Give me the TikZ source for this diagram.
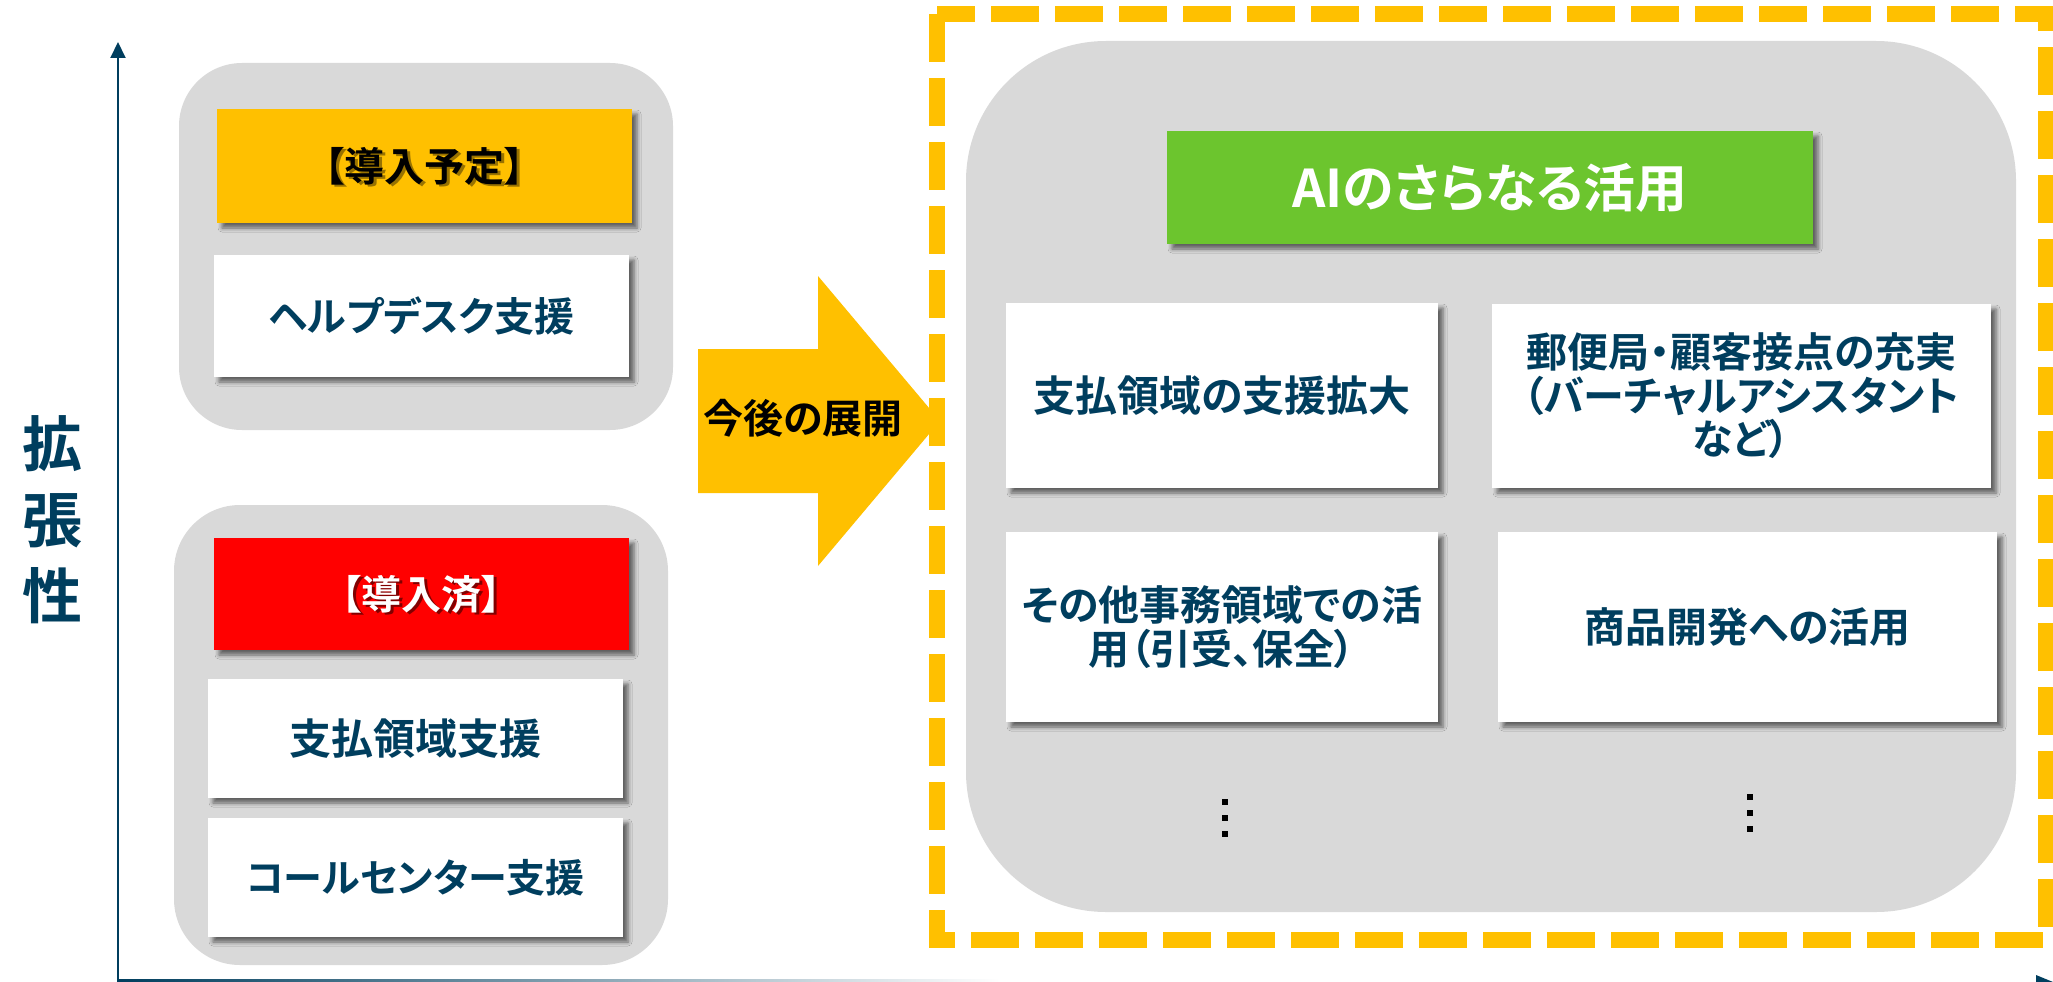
\documentclass[tikz,border=0pt]{standalone}
\usepackage{fontspec}
\setmainfont{Noto Sans CJK JP Bold}[RawFeature=+palt]
\usetikzlibrary{arrows.meta,shadows.blur}
\definecolor{navy}{HTML}{003E5E}
\definecolor{gbox}{HTML}{D9D9D9}
\definecolor{gold}{HTML}{FFC000}
\definecolor{grn}{HTML}{6CC52E}
\definecolor{redbox}{HTML}{FF0000}
\tikzset{
  panel/.style={fill=gbox, draw=none, inner sep=0pt},
  shadowed/.style={blur shadow={shadow xshift=5pt, shadow yshift=-5pt, shadow blur radius=4pt, shadow opacity=55}},
  card/.style={fill=white, draw=none, shadowed, text=navy, align=center, inner sep=0pt,
    font=\fontsize{40}{44}\selectfont},
  headbox/.style={draw=none, shadowed, inner sep=0pt},
  headtext/.style={inner sep=0pt, font=\fontsize{40}{44}\selectfont},
  axisline/.style={navy, line width=2pt},
  dot/.style={fill=black},
}
\begin{document}
\begin{tikzpicture}[x=1pt,y=-1pt]
\useasboundingbox (0,0) rectangle (2053,982);

% axes
\coordinate (origin) at (118,980);
\coordinate (ytip) at (118,42);
\coordinate (xtip) at (2053,982);
\draw[axisline, -{Triangle[width=15pt,length=16pt]}] (origin) -- (ytip);
\shade[left color=navy, right color=white] (117,979) rectangle (1000,981.5);
\fill[navy] (xtip) -- ++(-17,-7) -- ++(0,14) -- cycle;
\node[text=navy, align=center, inner sep=0pt, font=\fontsize{60}{76}\selectfont] (axislabel) at (53,520) {拡\\張\\性};

% left panels
\node[panel, rounded corners=63pt, minimum width=494pt, minimum height=367pt] (gL1) at (426,246.5) {};
\node[panel, rounded corners=66pt, minimum width=494pt, minimum height=460pt] (gL2) at (421,735) {};

\node[headbox, fill=gold, minimum width=415pt, minimum height=114pt] (plan) at (424.5,166) {};
\node[headtext, text=black!45!gold!60!black, opacity=0.6] (planshadow) at ([xshift=2.5pt,yshift=-2.5pt]plan.center) {【導入予定】};
\node[headtext, text=black] (plantext) at (plan.center) {【導入予定】};
\node[card, minimum width=415pt, minimum height=122pt] (help) at (421.5,316) {ヘルプデスク支援};

\node[headbox, fill=redbox, minimum width=415pt, minimum height=112pt] (done) at (421.5,594) {};
\node[headtext, text=black!70!redbox, opacity=0.7] (doneshadow) at ([xshift=2.5pt,yshift=-2.5pt]done.center) {【導入済】};
\node[headtext, text=white] (donetext) at (done.center) {【導入済】};
\node[card, minimum width=415pt, minimum height=119pt, font=\fontsize{42}{46}\selectfont] (pay) at (415.5,738.5) {支払領域支援};
\node[card, minimum width=415pt, minimum height=119pt, font=\fontsize{39}{43}\selectfont] (call) at (415.5,877.5) {コールセンター支援};

% big arrow
\fill[gold] (698,349) -- (818,349) -- (818,276) -- (940,421) -- (818,566) -- (818,493) -- (698,493) -- cycle;
\node[headtext, text=black] (future) at (803,418) {今後の展開};

% dashed frame
\draw[gold, line width=16pt, dash pattern=on 48pt off 16pt] (937,14) rectangle (2046,940);

% right panel
\node[panel, rounded corners=140pt, minimum width=1050pt, minimum height=871pt] (gR) at (1491,476.5) {};
\node[headbox, fill=grn, text=white, font=\fontsize{52}{56}\selectfont, minimum width=646pt, minimum height=113pt] (ai) at (1490,187.5) {AIのさらなる活用};

\node[card, minimum width=432pt, minimum height=185pt, font=\fontsize{42}{46}\selectfont] (r1) at (1222,395.5) {支払領域の支援拡大};
\node[card, minimum width=499pt, minimum height=184pt, font=\fontsize{41}{43.5}\selectfont] (r2) at (1741.5,396) {郵便局・顧客接点の充実\\（バーチャルアシスタント\\など）};
\node[card, minimum width=432pt, minimum height=190pt, font=\fontsize{41}{44}\selectfont] (r3) at (1222,627) {その他事務領域での活\\用（引受、保全）};
\node[card, minimum width=499pt, minimum height=190pt, font=\fontsize{41}{44}\selectfont] (r4) at (1747.5,627) {商品開発への活用};

% vertical ellipses
\foreach \yy in {799,815,831} \fill[dot] (1222,\yy) rectangle ++(6,6);
\foreach \yy in {794,810,826} \fill[dot] (1747,\yy) rectangle ++(6,6);
\end{tikzpicture}
\end{document}
